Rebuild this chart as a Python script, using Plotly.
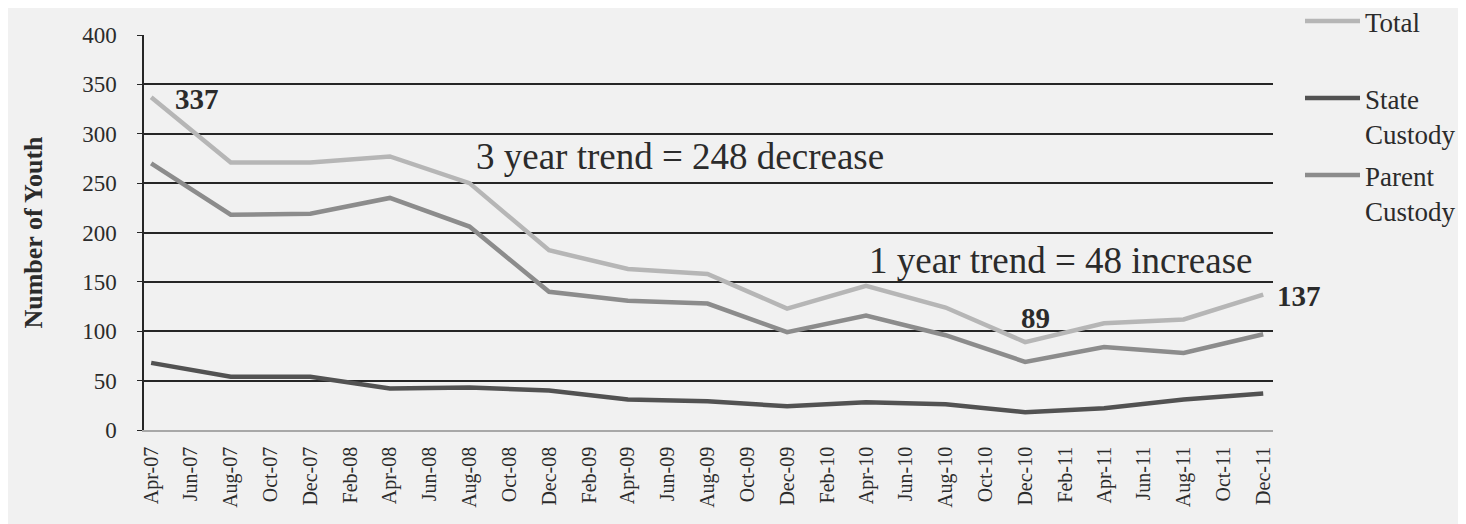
import plotly.graph_objects as go
import pandas as pd

# ---- data ----
obs_dates = ["2007-04-01", "2007-08-01", "2007-12-01", "2008-04-01", "2008-08-01",
             "2008-12-01", "2009-04-01", "2009-08-01", "2009-12-01", "2010-04-01",
             "2010-08-01", "2010-12-01", "2011-04-01", "2011-08-01", "2011-12-01"]
total = [337, 271, 271, 277, 250, 182, 163, 158, 123, 146, 124, 89, 108, 112, 137]
state_custody = [68, 54, 54, 42, 43, 40, 31, 29, 24, 28, 26, 18, 22, 31, 37]
parent_custody = [270, 218, 219, 235, 206, 140, 131, 128, 99, 116, 96, 69, 84, 78, 97]

tick_labels = ["Apr-07", "Jun-07", "Aug-07", "Oct-07", "Dec-07", "Feb-08", "Apr-08",
               "Jun-08", "Aug-08", "Oct-08", "Dec-08", "Feb-09", "Apr-09", "Jun-09",
               "Aug-09", "Oct-09", "Dec-09", "Feb-10", "Apr-10", "Jun-10", "Aug-10",
               "Oct-10", "Dec-10", "Feb-11", "Apr-11", "Jun-11", "Aug-11", "Oct-11",
               "Dec-11"]
tick_dates = pd.date_range("2007-04-01", "2011-12-01", freq="2MS")

FONT = "Liberation Serif, Times New Roman, serif"
TXT = "#2b2b2b"
BG = "#f1f1f1"

# page body has an 8px margin, so the figure is drawn 8px smaller and offset
W, H = 1458, 516

fig = go.Figure()
fig.add_trace(go.Scatter(x=obs_dates, y=total, name="Total", mode="lines",
                         line=dict(color="#b6b6b6", width=4.5), legend="legend"))
fig.add_trace(go.Scatter(x=obs_dates, y=state_custody, name="State<br>Custody", mode="lines",
                         line=dict(color="#525252", width=4.5), legend="legend2"))
fig.add_trace(go.Scatter(x=obs_dates, y=parent_custody, name="Parent<br>Custody", mode="lines",
                         line=dict(color="#8c8c8c", width=4.5), legend="legend3"))

leg_common = dict(font=dict(family=FONT, size=27, color=TXT), bgcolor="rgba(0,0,0,0)",
                  xanchor="left", yanchor="top",
                  itemwidth=55, valign="top", tracegroupgap=0)
LXPX = 1292
LX = LXPX / W
PLOT_H = 395
fig.update_layout(
    legend=dict(x=(LXPX - 136) / 1129, xref="paper", yref="paper",
                y=(422 + 11) / PLOT_H, **leg_common),
    legend2=dict(x=LX, y=1 - 66 / H, xref="container", yref="container", **leg_common),
    legend3=dict(x=LX, y=1 - 143 / H, xref="container", yref="container", **leg_common),
)

# value labels
i_min = total.index(min(total))
fig.add_annotation(x=obs_dates[0], y=total[0], text="<b>%d</b>" % total[0], showarrow=False,
                   xanchor="left", xshift=22, yshift=-2,
                   font=dict(family=FONT, size=29, color=TXT))
fig.add_annotation(x=obs_dates[i_min], y=total[i_min], text="<b>%d</b>" % total[i_min],
                   showarrow=False, xshift=10, yshift=24,
                   font=dict(family=FONT, size=29, color=TXT))
fig.add_annotation(x=obs_dates[-1], y=total[-1], text="<b>%d</b>" % total[-1], showarrow=False,
                   xanchor="left", xshift=12, yshift=-1,
                   font=dict(family=FONT, size=29, color=TXT))

# trend labels
fig.add_annotation(xref="paper", yref="paper", x=(680 - 144) / 1129, y=(430 - 156) / 395,
                   xanchor="center", yanchor="middle",
                   text="3 year trend = %d decrease" % (total[0] - total[i_min]),
                   showarrow=False, font=dict(family=FONT, size=37, color=TXT))
fig.add_annotation(xref="paper", yref="paper", x=(1061 - 144) / 1129, y=(430 - 261) / 395,
                   xanchor="center", yanchor="middle",
                   text="1 year trend = %d increase" % (total[-1] - total[i_min]),
                   showarrow=False, font=dict(family=FONT, size=37, color=TXT))

fig.update_xaxes(
    type="date", range=["2007-03-21", "2011-12-16"],
    tickmode="array", tickvals=tick_dates, ticktext=tick_labels, tickangle=-90,
    tickfont=dict(family=FONT, size=20, color=TXT), ticks="", ticklabelstandoff=7,
    showgrid=False, showline=True, linecolor="#a8a8a8", linewidth=1.5,
)
fig.update_yaxes(
    range=[0, 400], tickvals=[0, 50, 100, 150, 200, 250, 300, 350, 400],
    tickfont=dict(family=FONT, size=23, color=TXT),
    showgrid=True, gridcolor="#262626", gridwidth=1.8, zeroline=False,
    showline=True, linecolor="#262626", linewidth=1.5,
    ticks="outside", ticklen=5, tickcolor="#262626", ticklabelstandoff=16,
    title=dict(text="<b>Number of Youth</b>", font=dict(family=FONT, size=26, color=TXT),
               standoff=32),
)
fig.update_layout(
    width=W, height=H,
    margin=dict(l=136, r=193, t=27, b=94, autoexpand=False),
    paper_bgcolor=BG, plot_bgcolor=BG,
    showlegend=True,
)
fig.write_html("out.html")
